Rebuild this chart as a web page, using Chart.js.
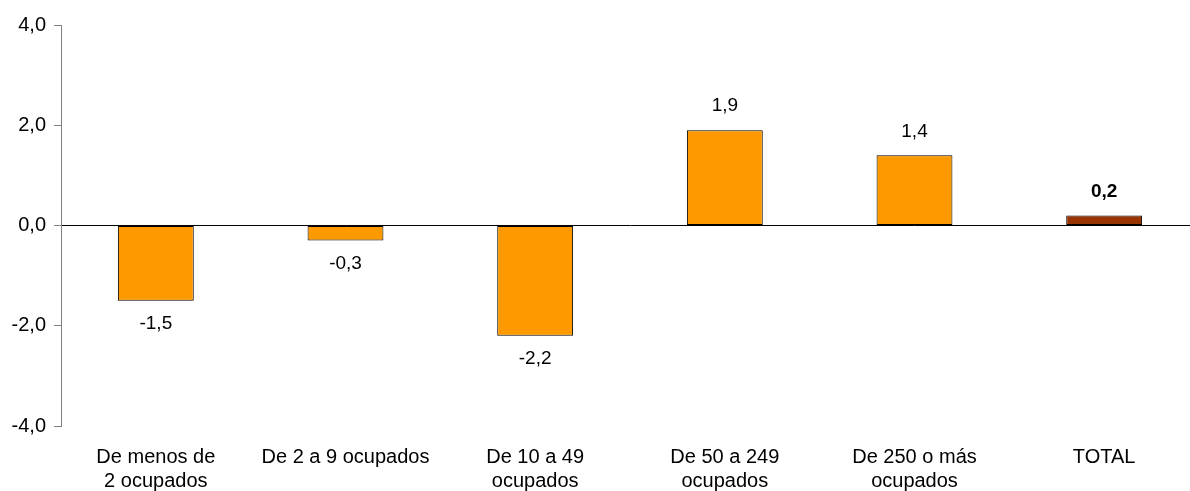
<!DOCTYPE html>
<html>
<head>
<meta charset="utf-8">
<script src="https://cdn.jsdelivr.net/npm/chart.js@4/dist/chart.umd.min.js"></script>
<style>
  html, body { margin: 0; padding: 0; background: #fff; overflow: hidden; }
  #wrap { position: relative; width: 1199px; height: 491px; }
</style>
</head>
<body>
<div id="wrap"><canvas id="myChart"></canvas></div>
<script>
// data
const categories = [
  ['De menos de', '2 ocupados'],
  'De 2 a 9 ocupados',
  ['De 10 a 49', 'ocupados'],
  ['De 50 a 249', 'ocupados'],
  ['De 250 o más', 'ocupados'],
  'TOTAL'
];
const values = [-1.5, -0.3, -2.2, 1.9, 1.4, 0.2];
const barColors = ['#FF9900', '#FF9900', '#FF9900', '#FF9900', '#FF9900', '#993300'];
const yTicks = [-4, -2, 0, 2, 4];

const FONT = '"Liberation Sans", Arial, sans-serif';

function fmt(v) {
  return v.toFixed(1).replace('.', ',');
}

// value labels over / under the bars
const valueLabels = {
  id: 'valueLabels',
  afterDatasetsDraw(chart) {
    const ctx = chart.ctx;
    const meta = chart.getDatasetMeta(0);
    ctx.save();
    ctx.fillStyle = '#000';
    ctx.textAlign = 'center';
    ctx.textBaseline = 'middle';
    meta.data.forEach(function(bar, i) {
      const v = values[i];
      const isTotal = i === values.length - 1;
      ctx.font = (isTotal ? 'bold ' : '') + '19px ' + FONT;
      const y = v >= 0 ? bar.y - 24 : bar.y + 23;
      ctx.fillText(fmt(v), bar.x, y);
    });
    ctx.restore();
  }
};

const ctx = document.getElementById('myChart').getContext('2d');
const chart = new Chart(ctx, {
  type: 'bar',
  data: {
    labels: categories,
    datasets: [{
      data: values,
      backgroundColor: barColors,
      borderColor: '#000',
      borderWidth: 1,
      borderSkipped: false,
      barPercentage: 0.4,
      categoryPercentage: 1.0
    }]
  },
  options: {
    responsive: true,
    maintainAspectRatio: false,
    animation: false,
    layout: { padding: { top: 25, right: 0, left: 0, bottom: 0 } },
    plugins: {
      legend: { display: false },
      tooltip: { enabled: false }
    },
    scales: {
      x: {
        grid: { display: false, drawTicks: false },
        border: { display: false },
        ticks: {
          color: '#000',
          font: { family: FONT, size: 20, lineHeight: 1.2 },
          padding: 19,
          maxRotation: 0,
          autoSkip: false
        },
        afterFit: function(scale) { scale.height = 65; }
      },
      y: {
        min: -4,
        max: 4,
        afterBuildTicks: function(scale) {
          scale.ticks = yTicks.map(function(v) { return { value: v }; });
        },
        grid: {
          drawOnChartArea: true,
          tickLength: 7,
          tickColor: '#808080',
          color: function(c) {
            return c.tick && c.tick.value === 0 ? '#000' : 'rgba(0,0,0,0)';
          },
          lineWidth: 1
        },
        border: { display: true, color: '#808080', width: 1 },
        ticks: {
          color: '#000',
          font: { family: FONT, size: 20 },
          padding: 8,
          callback: function(v) { return fmt(v); }
        },
        afterFit: function(scale) { scale.width = 61; }
      }
    }
  },
  plugins: [valueLabels]
});
</script>
</body>
</html>
